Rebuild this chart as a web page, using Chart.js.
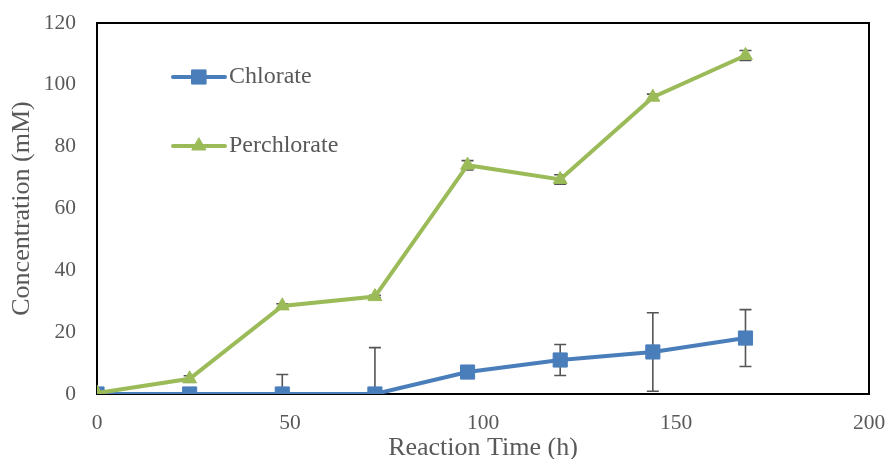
<!DOCTYPE html>
<html>
<head>
<meta charset="utf-8">
<script src="https://cdn.jsdelivr.net/npm/chart.js@4/dist/chart.umd.min.js"></script>
<style>
  html, body { margin: 0; padding: 0; background: #fff; }
  #wrap { width: 890px; height: 459px; }
</style>
</head>
<body>
<div id="wrap"><canvas id="concChart"></canvas></div>
<script>
const hours = [0, 24, 48, 72, 96, 120, 144, 168];
const chlorate = [0, 0, 0, 0, 7.1, 11, 13.6, 18.1];
const chlorateErr = [0, 0, 6.3, 15, 0.5, 5, 12.7, 9.2];
const perchlorate = [0.3, 4.9, 28.5, 31.5, 74, 69.4, 96, 109.5];
const perchlorateErr = [0, 1, 0.7, 0.4, 1.5, 1.5, 1, 1.6];

const xTicks = [0, 50, 100, 150, 200];
const yTicks = [0, 20, 40, 60, 80, 100, 120];

const BLUE = '#4a7ebb';
const GREEN = '#9bbb59';
const TEXT = '#595959';
const FONT = "'Liberation Serif', 'Times New Roman', serif";

const toPoints = (xs, ys) => xs.map((x, i) => ({ x: x, y: ys[i] }));

// error bars go under the markers, clipped to the plot box
const errorBars = {
    id: 'errorBars',
    beforeDatasetsDraw(chart) {
        const { ctx, chartArea, scales } = chart;
        ctx.save();
        ctx.beginPath();
        ctx.rect(chartArea.left, chartArea.top, chartArea.right - chartArea.left, chartArea.bottom - chartArea.top);
        ctx.clip();
        ctx.strokeStyle = '#555555';
        ctx.lineWidth = 1.6;
        chart.data.datasets.forEach(ds => {
            ds.data.forEach((p, i) => {
                const e = ds.errors[i];
                if (!e) return;
                const x = scales.x.getPixelForValue(p.x);
                const yHi = scales.y.getPixelForValue(p.y + e);
                const yLo = scales.y.getPixelForValue(p.y - e);
                ctx.beginPath();
                ctx.moveTo(x, yHi); ctx.lineTo(x, yLo);
                ctx.moveTo(x - 6, yHi); ctx.lineTo(x + 6, yHi);
                ctx.moveTo(x - 6, yLo); ctx.lineTo(x + 6, yLo);
                ctx.stroke();
            });
        });
        ctx.restore();
    }
};

// black box round the plot area
const plotBox = {
    id: 'plotBox',
    beforeDatasetsDraw(chart) {
        const { ctx, chartArea } = chart;
        ctx.save();
        ctx.strokeStyle = '#000';
        ctx.lineWidth = 2;
        ctx.strokeRect(chartArea.left, chartArea.top, chartArea.right - chartArea.left, chartArea.bottom - chartArea.top);
        ctx.restore();
    }
};

// legend drawn inside the plot, upper left
const insideLegend = {
    id: 'insideLegend',
    afterDraw(chart) {
        const { ctx } = chart;
        const rows = [
            { ds: chart.data.datasets[0], y: 77 },
            { ds: chart.data.datasets[1], y: 146 }
        ];
        ctx.save();
        rows.forEach(r => {
            ctx.strokeStyle = r.ds.borderColor;
            ctx.lineWidth = 4;
            ctx.lineCap = 'round';
            ctx.beginPath();
            ctx.moveTo(173, r.y); ctx.lineTo(225, r.y);
            ctx.stroke();
            ctx.fillStyle = r.ds.pointBackgroundColor;
            ctx.strokeStyle = r.ds.pointBorderColor;
            ctx.lineWidth = 1;
            Chart.helpers.drawPoint(ctx, {
                pointStyle: r.ds.pointStyle,
                radius: r.ds.pointRadius,
                borderWidth: 1,
                rotation: 0
            }, 199, r.y);
            ctx.fillStyle = TEXT;
            ctx.font = '24px ' + FONT;
            ctx.textBaseline = 'middle';
            ctx.fillText(r.ds.label, 229, r.y);
        });
        ctx.restore();
    }
};

new Chart(document.getElementById('concChart'), {
    type: 'line',
    data: {
        datasets: [{
            label: 'Chlorate',
            data: toPoints(hours, chlorate),
            errors: chlorateErr,
            borderColor: BLUE,
            borderWidth: 4,
            pointStyle: 'rect',
            pointRadius: 10,
            pointBackgroundColor: BLUE,
            pointBorderColor: BLUE,
            pointBorderWidth: 1,
            tension: 0,
            order: 2
        }, {
            label: 'Perchlorate',
            data: toPoints(hours, perchlorate),
            errors: perchlorateErr,
            borderColor: GREEN,
            borderWidth: 4,
            pointStyle: 'triangle',
            pointRadius: 8,
            pointBackgroundColor: GREEN,
            pointBorderColor: GREEN,
            pointBorderWidth: 1,
            tension: 0,
            order: 1
        }]
    },
    options: {
        responsive: true,
        maintainAspectRatio: false,
        animation: false,
        layout: { padding: { top: 23, right: 21, left: 0, bottom: 0 } },
        plugins: {
            legend: { display: false },
            tooltip: { enabled: false }
        },
        scales: {
            x: {
                type: 'linear',
                min: 0,
                max: 200,
                afterFit(scale) {
                    scale.height = 65;
                    scale.paddingLeft = 0;
                    scale.paddingRight = 0;
                },
                afterBuildTicks(scale) { scale.ticks = xTicks.map(v => ({ value: v })); },
                grid: { display: false, drawTicks: false },
                border: { display: false },
                ticks: { color: TEXT, padding: 16, font: { family: FONT, size: 21.5 } },
                title: {
                    display: true,
                    text: 'Reaction Time (h)',
                    color: TEXT,
                    font: { family: FONT, size: 26, lineHeight: 1 },
                    padding: { top: 0, bottom: -2 }
                }
            },
            y: {
                min: 0,
                max: 120,
                afterFit(scale) {
                    scale.width = 97;
                    scale.paddingTop = 0;
                    scale.paddingBottom = 0;
                },
                afterBuildTicks(scale) { scale.ticks = yTicks.map(v => ({ value: v })); },
                grid: { display: false, drawTicks: false },
                border: { display: false },
                ticks: { color: TEXT, padding: 21, font: { family: FONT, size: 21.5 } },
                title: {
                    display: true,
                    text: 'Concentration (mM)',
                    color: TEXT,
                    font: { family: FONT, size: 26, lineHeight: 1 },
                    padding: { top: 9, bottom: 0 }
                }
            }
        }
    },
    plugins: [plotBox, errorBars, insideLegend]
});
</script>
</body>
</html>
